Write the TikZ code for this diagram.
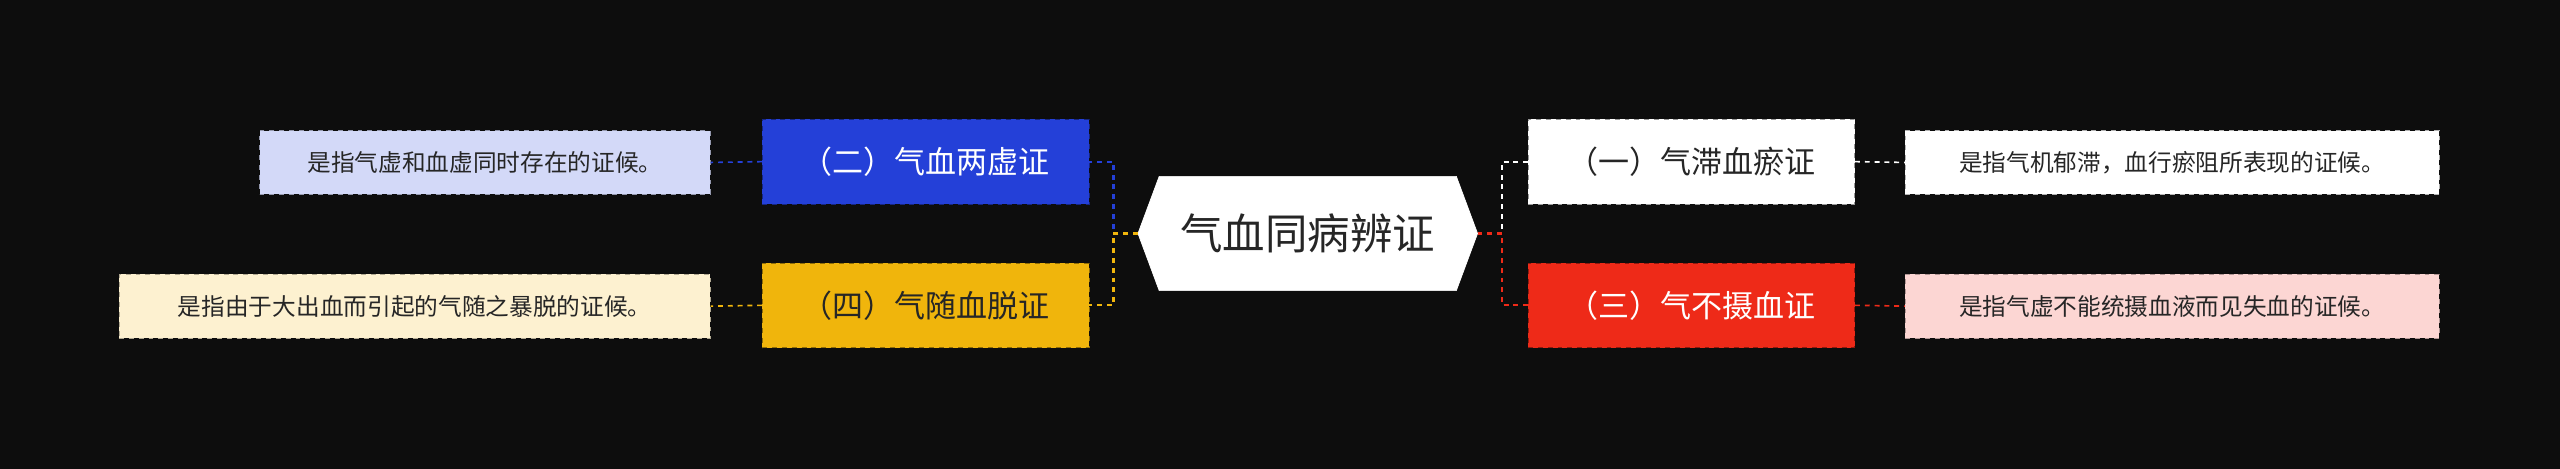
\documentclass[tikz,border=0pt]{standalone}
\usepackage{fontspec}
\setmainfont{Noto Sans CJK SC}
\usetikzlibrary{shapes.geometric}
\definecolor{bg}{HTML}{0D0D0D}
\definecolor{cblue}{HTML}{2440D8}
\definecolor{cyel}{HTML}{F0B50C}
\definecolor{cred}{HTML}{EE2A18}
\definecolor{ltblue}{HTML}{D3D9F8}
\definecolor{ltyel}{HTML}{FDF1D0}
\definecolor{ltred}{HTML}{FCD6D3}
\definecolor{txt}{HTML}{262626}
\tikzset{
 x=1pt,y=1pt,
 topic/.style={draw=#1!60!black,dashed,fill=#1,minimum width=200pt,minimum height=52pt,font=\fontsize{19}{22}\selectfont,inner sep=0pt},
 leaf/.style={draw=#1!70!black,dashed,fill=#1,minimum height=39pt,font=\fontsize{14.5}{17}\selectfont,text=txt,inner xsep=9pt},
 conn/.style={dashed,line width=1.3pt,draw=#1}
}
\begin{document}
\begin{tikzpicture}
\fill[bg] (0,0) rectangle (1568,-287);
\useasboundingbox (0,0) rectangle (1568,-287);
% center hexagon
\filldraw[white] (697,-143) -- (710,-108) -- (892,-108) -- (905,-143) -- (892,-178) -- (710,-178) -- cycle;
\node[font=\fontsize{26}{30}\selectfont,text=txt] (c) at (801,-143) {气血同病辨证};
\coordinate (cr) at (905,-143);
\coordinate (cl) at (697,-143);
\node[topic=white,text=txt] (t1) at (1036,-99) {（一）气滞血瘀证};
\node[topic=cred,text=white] (t3) at (1036,-187) {（三）气不摄血证};
\node[topic=cblue,text=white] (t2) at (567,-99) {（二）气血两虚证};
\node[topic=cyel,text=txt] (t4) at (567,-187) {（四）气随血脱证};
\node[leaf=white,minimum width=327pt] (l1) at (1330.5,-99.5) {是指气机郁滞，血行瘀阻所表现的证候。};
\node[leaf=ltred,minimum width=327pt] (l3) at (1330.5,-187.5) {是指气虚不能统摄血液而见失血的证候。};
\node[leaf=ltblue,minimum width=276pt] (l2) at (297,-99.5) {是指气虚和血虚同时存在的证候。};
\node[leaf=ltyel,minimum width=362pt] (l4) at (254,-187.5) {是指由于大出血而引起的气随之暴脱的证候。};
% connectors
\draw[conn=white] (cr) -- ++(15,0) |- (t1.west);
\draw[conn=cred] (cr) -- ++(15,0) |- (t3.west);
\draw[conn=cblue] (cl) -- ++(-15,0) |- (t2.east);
\draw[conn=cyel] (cl) -- ++(-15,0) |- (t4.east);
\draw[conn=white,line width=1pt] (t1.east) -- (l1.west);
\draw[conn=cred,line width=1pt] (t3.east) -- (l3.west);
\draw[conn=cblue,line width=1pt] (t2.west) -- (l2.east);
\draw[conn=cyel,line width=1pt] (t4.west) -- (l4.east);
\end{tikzpicture}
\end{document}
